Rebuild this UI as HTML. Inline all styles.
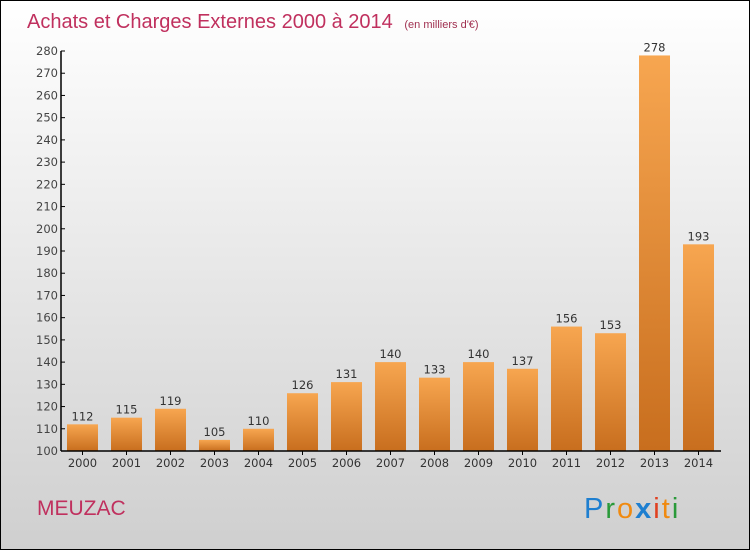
<!DOCTYPE html>
<html><head><meta charset="utf-8"><style>
body{margin:0}
#c{width:748px;height:548px;border:1px solid #000;background:linear-gradient(#ffffff,#cfcfcf);position:relative;overflow:hidden;font-family:"DejaVu Sans","Liberation Sans",sans-serif}
</style></head><body>
<div id="c">
<svg id="s" width="748" height="548">
<defs>
<linearGradient id="g" x1="0" y1="0" x2="0" y2="1"><stop offset="0" stop-color="#f7a650"/><stop offset="1" stop-color="#c86e1e"/></linearGradient>
</defs>
<text x="26" y="27" font-size="20" fill="#c0305e" font-family="Liberation Sans, sans-serif">Achats et Charges Externes 2000 à 2014 <tspan font-size="11" dx="6" fill="#a03050">(en milliers d'€)</tspan></text>
<text x="36" y="514" font-size="21" fill="#c0305e" font-family="Liberation Sans, sans-serif">MEUZAC</text>
<g font-size="29" font-family="Liberation Sans, sans-serif" letter-spacing="2">
<text x="583" y="517"><tspan fill="#1e7fd0">P</tspan><tspan fill="#2a9a3a">r</tspan><tspan fill="#f08a10">o</tspan><tspan fill="#1e7fd0" font-weight="bold">x</tspan><tspan fill="#e04020">i</tspan><tspan fill="#f08a10">t</tspan><tspan fill="#2a9a3a">i</tspan></text>
</g>
<g id="plot"></g>
</svg>
</div>
<script>
const categories=["2000","2001","2002","2003","2004","2005","2006","2007","2008","2009","2010","2011","2012","2013","2014"];
const values=[112,115,119,105,110,126,131,140,133,140,137,156,153,278,193];
const yTicks=[100,110,120,130,140,150,160,170,180,190,200,210,220,230,240,250,260,270,280];
const NS="http://www.w3.org/2000/svg";
const g=document.getElementById('plot');
const y=v=>450-(v-100)*400/180;
const x=i=>66+44*i;
function mk(t,a){const e=document.createElementNS(NS,t);for(const k in a)e.setAttribute(k,a[k]);g.appendChild(e);return e;}
yTicks.forEach(v=>{
 const l=mk('line',{x1:60,x2:64,y1:y(v),y2:y(v),stroke:'#000'});
 
 
 const t=mk('text',{x:57,y:y(v)+4,'font-size':11.5,'text-anchor':'end',fill:'#444'});
 t.textContent=v;
 
 
});
categories.forEach((c,i)=>{
 const r=mk('rect',{x:x(i),y:y(values[i]),width:31,height:450-y(values[i]),fill:'url(#g)'});
 
 
 const t=mk('text',{x:x(i)+15.5,y:y(values[i])-4,'font-size':11.5,'text-anchor':'middle',fill:'#333'});
 t.textContent=values[i];
 
 
 const tk=mk('line',{x1:x(i)+15.5,x2:x(i)+15.5,y1:450,y2:454,stroke:'#000'});
 
 
 const xl=mk('text',{x:x(i)+15.5,y:466,'font-size':11.5,'text-anchor':'middle',fill:'#333'});
 xl.textContent=c;
 
 
});
const ya=mk('line',{x1:60,x2:60,y1:y(280),y2:450,stroke:'#000','stroke-width':1.5});


const xa=mk('line',{x1:60,x2:720,y1:450,y2:450,stroke:'#000','stroke-width':1.5});


</script>
</body></html>
